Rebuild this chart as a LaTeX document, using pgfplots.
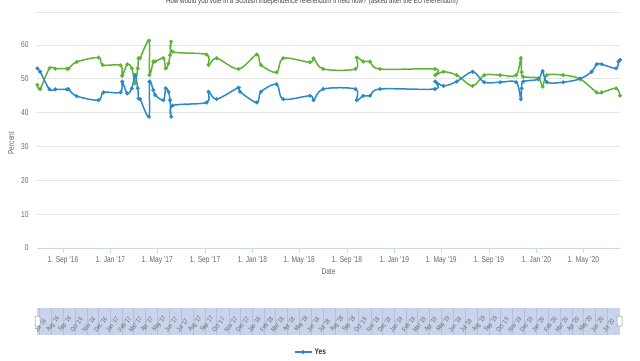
\documentclass[border=0pt]{standalone}
\usepackage{pgfplots}
\pgfplotsset{compat=1.18}
\usepackage{fontspec}
\setmainfont{Liberation Sans}[FakeStretch=0.78]
\definecolor{yesblue}{HTML}{2A8AC9}
\definecolor{nogreen}{HTML}{5DB335}
\definecolor{gridc}{HTML}{E6E6E6}
\definecolor{axisc}{HTML}{CCD6EB}
\definecolor{lab}{HTML}{666666}
\definecolor{navfill}{HTML}{CAD3EC}
\definecolor{navline}{HTML}{B5C0DE}

\pgfplotstableread{
day val
-66 53.1
-59 52.1
-35 46.9
-20 46.9
10 46.9
14 46.9
35 44.9
91 43.7
104 46.0
148 46.0
152 49.2
165 45.7
177 47.2
185 51.1
192 47.2
194 44.2
198 44.0
221 38.8
222 49.2
232 46.7
237 45.2
258 43.7
264 47.2
271 46.2
275 43.7
278 38.8
282 42.1
369 43.0
374 46.2
395 44.0
451 47.4
455 46.2
498 43.0
509 46.2
549 48.4
566 44.0
635 45.0
644 43.7
669 47.0
752 47.0
755 43.7
772 45.0
789 45.0
815 47.0
956 47.0
957 49.2
978 47.9
1012 49.2
1053 52.1
1083 49.0
1124 49.0
1165 49.0
1177 44.0
1179 47.2
1183 49.2
1222 49.9
1233 52.3
1244 49.0
1286 49.0
1329 50.0
1359 52.1
1372 54.3
1385 54.3
1422 53.1
1428 55.1
1432 55.6
}\yestable

\pgfplotstableread{
day val
-66 48.2
-59 47.0
-35 53.1
-20 53.0
10 53.0
14 53.0
35 55.0
91 56.3
102 54.1
148 54.0
152 50.9
165 54.3
177 53.1
185 48.7
192 53.1
194 56.1
198 56.1
221 61.3
222 51.1
232 55.1
237 55.1
258 56.1
264 53.1
271 54.5
275 57.0
278 61.0
282 58.0
369 57.2
374 54.1
395 56.1
451 52.9
498 57.2
509 54.1
549 51.9
566 56.1
635 54.9
644 56.1
669 52.9
752 52.9
755 56.3
772 55.1
789 55.1
815 52.9
956 52.9
957 51.1
978 52.1
1012 51.1
1053 47.9
1083 51.1
1124 51.1
1165 51.1
1177 56.1
1179 52.0
1183 50.6
1222 50.2
1233 47.7
1244 51.1
1286 51.1
1329 50.0
1372 46.0
1385 46.0
1422 47.2
1432 45.0
}\notable

\begin{document}
\begin{tikzpicture}[x=1bp,y=1bp]
\useasboundingbox (0,0) rectangle (640,360);
\node[font=\fontsize{8}{9}\selectfont, text=black!75] at (312,358.5) {How would you vote in a Scottish independence referendum if held now? (asked after the EU referendum)};
\draw[gridc, line width=0.8bp] (37,348) -- (620,348);

\begin{axis}[
  at={(37bp,112bp)}, anchor=south west,
  scale only axis, width=583bp, height=209.75bp,
  xmin=-67, xmax=1432, ymin=0, ymax=62,
  clip=false,
  axis x line*=bottom, axis y line*=left,
  y axis line style={draw=none},
  x axis line style={axisc, line width=0.8bp},
  xtick style={axisc, line width=0.8bp},
  ytick style={draw=none},
  tick align=outside, major tick length=5bp,
  ymajorgrids, grid style={gridc, line width=0.8bp},
  ytick={0,10,20,30,40,50,60},
  xtick={0,122,242,365,487,607,730,852,972,1095,1217,1338},
  xticklabels={1. Sep '16,1. Jan '17,1. May '17,1. Sep '17,1. Jan '18,1. May '18,1. Sep '18,1. Jan '19,1. May '19,1. Sep '19,1. Jan '20,1. May '20},
  /pgf/number format/assume math mode=true,
  tick label style={font=\fontsize{8.5}{9}\selectfont, text=lab},
  xlabel={Date}, ylabel={Percent},
  label style={font=\fontsize{8.5}{9}\selectfont, text=lab},
  xlabel style={yshift=2bp},
  legend style={at={(0.47,-0.496)}, anchor=center, draw=none, fill=none, font=\bfseries\fontsize{8.5}{9}\selectfont, text=black!80},
  legend cell align=left,
]
\addplot[nogreen, line width=1.5bp, smooth, tension=0.55, mark=*, mark size=1.1bp, forget plot] table[x=day,y=val] {\notable};
\addplot[yesblue, line width=1.5bp, smooth, tension=0.55, mark=*, mark size=1.1bp] table[x=day,y=val] {\yestable};
\addlegendentry{Yes}
\end{axis}

\begin{axis}[
  at={(37bp,25bp)}, anchor=south west,
  scale only axis, width=583bp, height=27bp,
  xmin=-67, xmax=1432, ymin=0, ymax=1,
  axis background/.style={fill=navfill},
  axis line style={draw=none},
  ytick=\empty,
  xtick style={draw=none},
  xmajorgrids, grid style={navline, line width=0.4bp},
  xtick={-62,-31,0,30,61,91,122,153,181,212,242,273,303,334,365,395,426,456,487,518,546,577,607,638,668,699,730,760,791,821,852,883,911,942,972,1003,1033,1064,1095,1125,1156,1186,1217,1248,1277,1308,1338,1369,1399},
  xticklabels={Jul '16,Aug '16,Sep '16,Oct '16,Nov '16,Dec '16,Jan '17,Feb '17,Mar '17,Apr '17,May '17,Jun '17,Jul '17,Aug '17,Sep '17,Oct '17,Nov '17,Dec '17,Jan '18,Feb '18,Mar '18,Apr '18,May '18,Jun '18,Jul '18,Aug '18,Sep '18,Oct '18,Nov '18,Dec '18,Jan '19,Feb '19,Mar '19,Apr '19,May '19,Jun '19,Jul '19,Aug '19,Sep '19,Oct '19,Nov '19,Dec '19,Jan '20,Feb '20,Mar '20,Apr '20,May '20,Jun '20,Jul '20},
  xticklabel style={rotate=52, anchor=west, inner sep=0pt, yshift=5bp, xshift=1bp, font=\fontsize{6.5}{7}\selectfont, text=lab},
]
\end{axis}
\draw[black!45, fill=white, rounded corners=1bp, line width=0.5bp] (35,34) rectangle (40,44);
\draw[black!45, fill=white, rounded corners=1bp, line width=0.5bp] (617,34) rectangle (622,44);
\end{tikzpicture}
\end{document}
